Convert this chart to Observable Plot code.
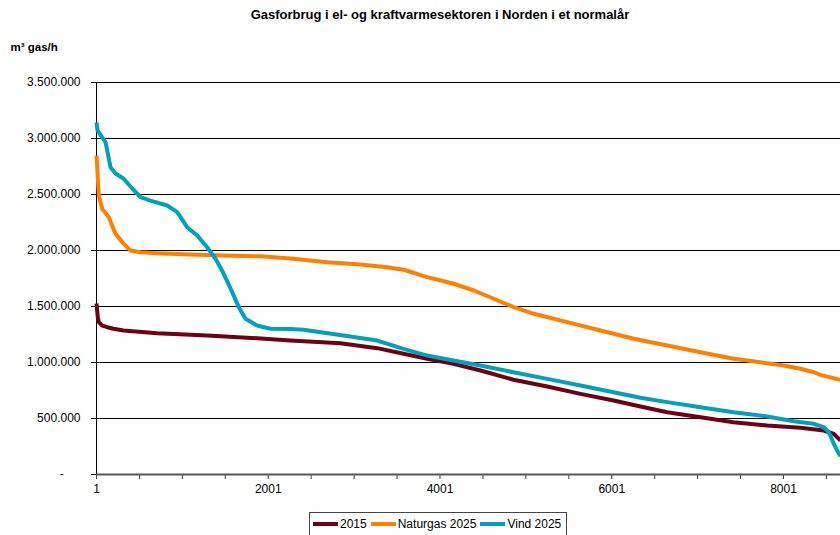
<!DOCTYPE html>
<html><head><meta charset="utf-8">
<script src="https://cdn.jsdelivr.net/npm/d3@7"></script>
<script src="https://cdn.jsdelivr.net/npm/@observablehq/plot@0.6"></script>
<style>
body{margin:0;background:#fff;font-family:"Liberation Sans",Arial,sans-serif;color:#000;}
#wrap{position:relative;width:840px;height:535px;overflow:hidden;}
#title{height:30px;line-height:30px;font-weight:bold;font-size:13px;text-align:center;margin-left:40px;width:800px;white-space:nowrap;}
#chart svg{display:block;font-family:"Liberation Sans",Arial,sans-serif;}
#legend{position:absolute;left:309px;top:512px;width:258px;height:24px;box-sizing:border-box;border:1px solid #444;display:flex;align-items:center;font-size:12px;padding-bottom:1px;}
.sw{width:25px;height:4px;flex:none;}
.lt{margin-left:2px;white-space:nowrap;}
</style></head>
<body>
<div id="wrap">
<div id="title">Gasforbrug i el- og kraftvarmesektoren i Norden i et normalår</div>
<div id="chart"></div>
<div id="legend"></div>
</div>
<script>
// Series names and colours
const seriesNames = ["2015", "Naturgas 2025", "Vind 2025"];
const seriesColors = ["#6E0016", "#FF8000", "#00A0BF"];

// Hours (sorted duration) and gas consumption (m3 gas/h)
const hours2015 = [1, 16, 28, 67, 126, 199, 315, 708, 1290, 1872, 2260, 2842, 3270, 3576, 3852, 4158, 4473, 4857, 5250, 5637, 6022, 6336, 6647, 7035, 7419, 7811, 8199, 8470, 8587, 8665];
const values2015 = [1527000, 1404000, 1360000, 1330000, 1315000, 1301000, 1286000, 1262000, 1241000, 1217000, 1196000, 1172000, 1128000, 1078000, 1033000, 988000, 929000, 846000, 786000, 720000, 661000, 607000, 556000, 512000, 467000, 438000, 417000, 393000, 363000, 304000];

const hoursNaturgas = [1, 16, 28, 67, 144, 222, 319, 397, 513, 708, 1096, 1483, 1911, 2299, 2688, 3075, 3386, 3580, 3852, 4162, 4395, 4628, 4861, 5094, 5482, 5870, 6258, 6647, 7035, 7423, 7811, 8005, 8199, 8354, 8432, 8665];
const valuesNaturgas = [2848000, 2654000, 2491000, 2372000, 2297000, 2149000, 2059000, 2000000, 1985000, 1976000, 1964000, 1955000, 1948000, 1926000, 1896000, 1875000, 1851000, 1828000, 1762000, 1703000, 1643000, 1569000, 1494000, 1435000, 1360000, 1286000, 1212000, 1152000, 1092000, 1033000, 994000, 973000, 944000, 913000, 890000, 845000];

const hoursVind = [1, 13, 106, 164, 222, 315, 417, 513, 630, 824, 941, 1057, 1174, 1290, 1387, 1483, 1581, 1658, 1736, 1872, 2027, 2260, 2411, 2877, 3270, 3576, 3852, 4158, 4473, 4857, 5250, 5637, 6022, 6336, 6647, 7035, 7419, 7811, 8121, 8354, 8470, 8529, 8587, 8645, 8665];
const valuesVind = [3142000, 3071000, 2967000, 2744000, 2688000, 2643000, 2554000, 2476000, 2446000, 2402000, 2342000, 2208000, 2134000, 2029000, 1926000, 1792000, 1628000, 1494000, 1390000, 1330000, 1301000, 1300000, 1292000, 1241000, 1196000, 1122000, 1062000, 1018000, 973000, 913000, 854000, 795000, 735000, 685000, 646000, 601000, 556000, 518000, 476000, 453000, 422000, 378000, 274000, 185000, 165000];

// Axis ticks
const yTicks = [0, 500000, 1000000, 1500000, 2000000, 2500000, 3000000, 3500000];
const xTicks = [1, 501, 1001, 1501, 2001, 2501, 3001, 3501, 4001, 4501, 5001, 5501, 6001, 6501, 7001, 7501, 8001, 8501];
const xLabels = [1, 2001, 4001, 6001, 8001];
const yUnit = "m³ gas/h";

const toRows = (hs, vs) => hs.map((h, i) => ({h, v: vs[i]}));
const series = [toRows(hours2015, values2015), toRows(hoursNaturgas, valuesNaturgas), toRows(hoursVind, valuesVind)];

const dk = d3.formatLocale({decimal: ",", thousands: ".", grouping: [3], currency: ["", ""]}).format(",");
const yFmt = d => d === 0 ? "-\u00a0\u00a0\u00a0\u00a0\u00a0" : dk(d);

const chart = Plot.plot({
  width: 840,
  height: 475,
  marginLeft: 96,
  marginRight: 0,
  marginTop: 52,
  marginBottom: 31,
  x: {domain: [1, 8665]},
  y: {domain: [0, 3500000]},
  marks: [
    Plot.ruleY(yTicks.filter(d => d > 0), {stroke: "#000", strokeWidth: 1}),
    Plot.axisY(yTicks, {tickSize: 5, tickPadding: 11, tickFormat: yFmt, fontSize: 12, stroke: "#000", label: null}),
    Plot.axisX(xTicks, {tickSize: 5, tickPadding: 5, tickFormat: d => xLabels.includes(d) ? String(d) : "", fontSize: 12, stroke: "#444", label: null}),
    Plot.ruleX([1], {stroke: "#000", strokeWidth: 1}),
    Plot.ruleY([0], {stroke: "#555", strokeWidth: 2}),
    ...series.map((rows, i) => Plot.line(rows, {x: "h", y: "v", stroke: seriesColors[i], strokeWidth: 4, strokeLinejoin: "round", strokeLinecap: "butt"})),
    Plot.text([yUnit], {frameAnchor: "top-left", dx: -86, dy: -40, textAnchor: "start", fontWeight: "bold", fontSize: 11.5})
  ]
});
document.getElementById("chart").appendChild(chart);

const legend = document.getElementById("legend");
seriesNames.forEach((name, i) => {
  const sw = document.createElement("span");
  sw.className = "sw";
  sw.style.background = seriesColors[i];
  sw.style.marginLeft = i === 0 ? "3px" : "4px";
  const t = document.createElement("span");
  t.className = "lt";
  t.textContent = name;
  legend.appendChild(sw);
  legend.appendChild(t);
});
</script>
</body></html>
